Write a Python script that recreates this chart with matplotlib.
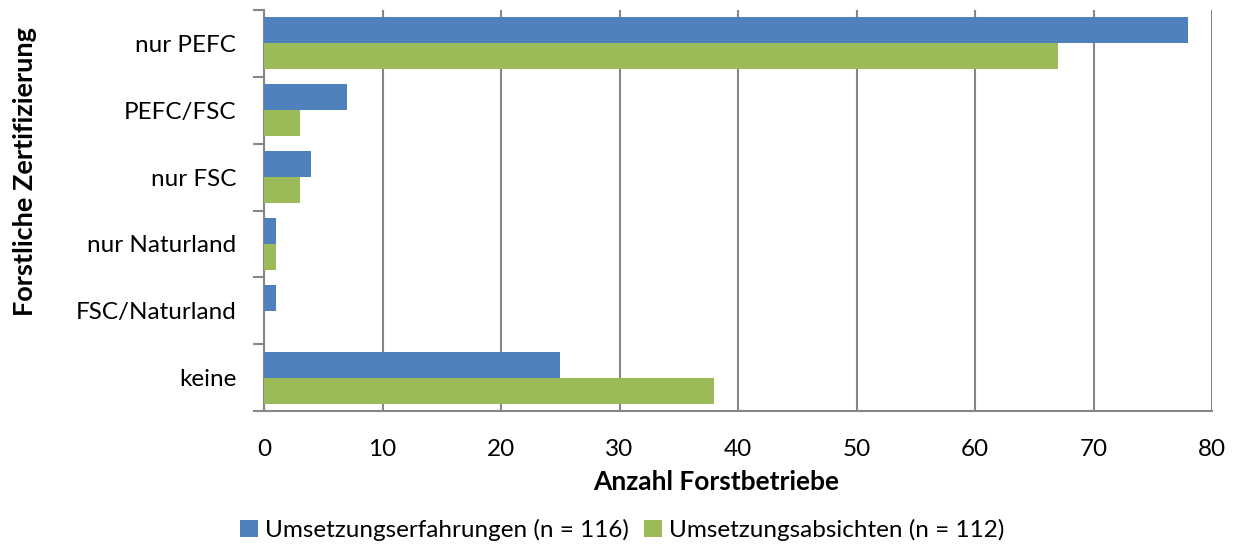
import matplotlib
matplotlib.use("Agg")
import matplotlib.pyplot as plt
import numpy as np
from matplotlib.ticker import FixedLocator

categories = ["nur PEFC", "PEFC/FSC", "nur FSC", "nur Naturland", "FSC/Naturland", "keine"]
erfahrungen = [78, 7, 4, 1, 1, 25]
absichten = [67, 3, 3, 1, 0, 38]
series_labels = ["Umsetzungserfahrungen (n = 116)", "Umsetzungsabsichten (n = 112)"]
x_ticks = [0, 10, 20, 30, 40, 50, 60, 70, 80]

plt.rcParams['font.family'] = ['Lato', 'DejaVu Sans']

fig = plt.figure(figsize=(12.35, 5.48), dpi=100)
ax = fig.add_axes([264/1235, 1-411/548, (1212-264)/1235, (411-10)/548])

blue = "#4F81BD"
green = "#9BBB59"
grid_c = "#868686"

y = np.arange(len(categories))
h = 0.39
ax.barh(y - h/2, erfahrungen, height=h, color=blue, label=series_labels[0], zorder=3)
ax.barh(y + h/2, absichten, height=h, color=green, label=series_labels[1], zorder=3)

ax.set_xlim(0, 80)
ax.set_ylim(len(categories) - 0.5, -0.5)
ax.set_xticks(x_ticks)
ax.set_xticklabels([str(t) for t in x_ticks], fontsize=17.5)
ax.tick_params(axis='x', length=0, pad=20)
ax.xaxis.grid(True, color=grid_c, linewidth=1.5, zorder=0)

ax.set_yticks(y)
ax.set_yticklabels(categories, fontsize=17.5)
ax.tick_params(axis='y', which='major', length=0, pad=20)
ax.yaxis.set_minor_locator(FixedLocator(np.arange(-0.5, len(categories), 1.0)))
ax.tick_params(axis='y', which='minor', length=8, width=1.5, color=grid_c, direction='out')

for s in ['top', 'right']:
    ax.spines[s].set_visible(False)
for s in ['left', 'bottom']:
    ax.spines[s].set_color(grid_c)
    ax.spines[s].set_linewidth(1.5)

fig.text(716/1235, 1-482/548, "Anzahl Forstbetriebe", ha='center', va='center',
         fontsize=19, fontweight='bold')
fig.text(25/1235, 1-172/548, "Forstliche Zertifizierung", ha='center', va='center',
         rotation=90, fontsize=19.5, fontweight='bold')

fig.legend(loc='center', bbox_to_anchor=(622/1235, 1-530/548), ncol=2, frameon=False,
           fontsize=17.5, handlelength=0.75, handleheight=0.75, handletextpad=0.3,
           columnspacing=0.6)

fig.savefig("out.png", dpi=100)
